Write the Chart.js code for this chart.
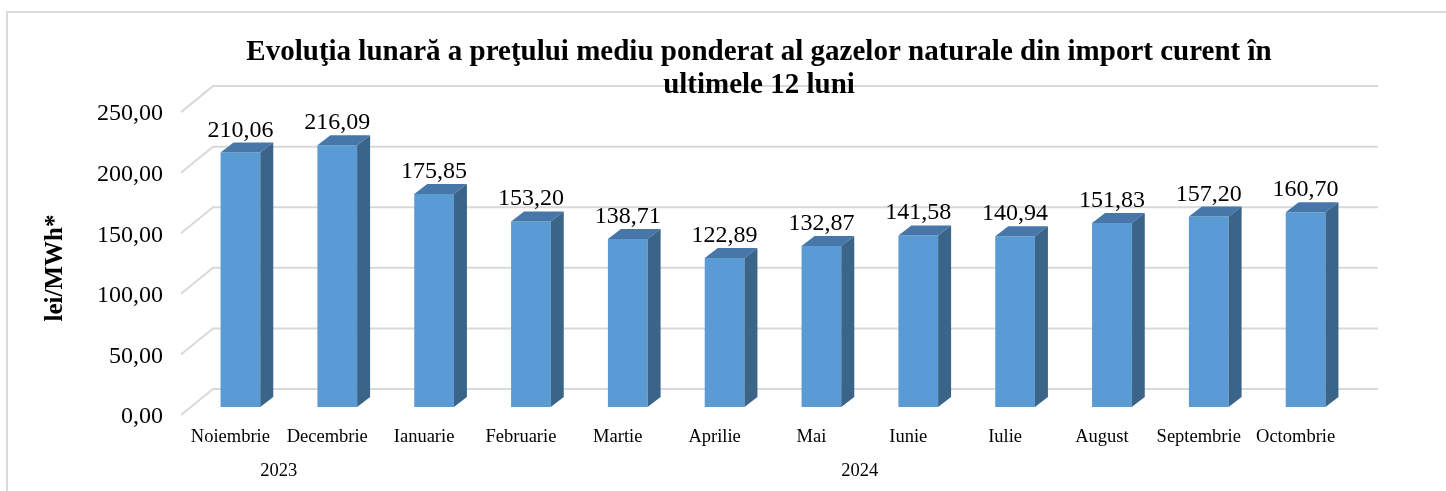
<!DOCTYPE html>
<html>
<head>
<meta charset="utf-8">
<script src="https://cdn.jsdelivr.net/npm/chart.js@4.4.1/dist/chart.umd.min.js"></script>
<style>
  body { margin: 0; background: #fff; overflow: hidden; }
  #wrap { position: relative; width: 1446px; height: 491px; }
  #frame { position: absolute; left: 6px; top: 11px; width: 1450px; height: 500px;
           border-left: 2px solid #dadada; border-top: 2px solid #dadada; }
  #chart { position: absolute; left: 0; top: 0; }
</style>
</head>
<body>
<div id="wrap">
  <div id="frame"></div>
  <canvas id="chart" width="1446" height="491"></canvas>
</div>
<script>
// data
var months = ['Noiembrie', 'Decembrie', 'Ianuarie', 'Februarie', 'Martie', 'Aprilie',
              'Mai', 'Iunie', 'Iulie', 'August', 'Septembrie', 'Octombrie'];
var prices = [210.06, 216.09, 175.85, 153.20, 138.71, 122.89, 132.87, 141.58, 140.94, 151.83, 157.20, 160.70];
var years = ['2023', '2024'];
var yearFirst = [0, 2];   // index of first month of each year
var yearLast = [1, 11];   // index of last month of each year

var serif = "'Liberation Serif', 'Times New Roman', serif";

function fmt(v) {
    return v.toFixed(2).replace('.', ',');
}

// 3D look: depth of the bars and of the back wall
var barDx = 13, barDy = -10;

var gridPlugin = {
    id: 'grid3d',
    // drawn before the title so the title sits on top of the walls
    beforeDraw: function(chart) {
        var ctx = chart.ctx;
        var area = chart.chartArea;
        var y = chart.scales.y;
        ctx.save();
        ctx.strokeStyle = '#d9d9d9';
        ctx.lineWidth = 2;
        y.ticks.forEach(function(t) {
            var py = y.getPixelForValue(t.value) - 18;
            ctx.beginPath();
            ctx.moveTo(area.left - 11, py + 26);
            ctx.lineTo(area.left + 21, py);
            ctx.lineTo(area.right + 24, py);
            ctx.stroke();
        });
        ctx.restore();
    },
    afterDatasetsDraw: function(chart) {
        var ctx = chart.ctx;
        var meta = chart.getDatasetMeta(0);
        ctx.save();
        meta.data.forEach(function(bar, i) {
            var p = bar.getProps(['x', 'y', 'base', 'width'], true);
            var l = p.x - p.width / 2, r = p.x + p.width / 2;
            // top
            ctx.fillStyle = '#4677a8';
            ctx.beginPath();
            ctx.moveTo(l, p.y);
            ctx.lineTo(r, p.y);
            ctx.lineTo(r + barDx, p.y + barDy);
            ctx.lineTo(l + barDx, p.y + barDy);
            ctx.closePath();
            ctx.fill();
            // side
            ctx.fillStyle = '#3a6588';
            ctx.beginPath();
            ctx.moveTo(r, p.y);
            ctx.lineTo(r + barDx, p.y + barDy);
            ctx.lineTo(r + barDx, p.base + barDy);
            ctx.lineTo(r, p.base);
            ctx.closePath();
            ctx.fill();
            // value label
            ctx.fillStyle = '#000';
            ctx.font = '24px ' + serif;
            ctx.textAlign = 'center';
            ctx.textBaseline = 'alphabetic';
            ctx.fillText(fmt(prices[i]), p.x, p.y - 16);
        });
        ctx.restore();
    }
};

var yearMid = years.map(function(y, i) { return (yearFirst[i] + yearLast[i]) / 2; });

new Chart(document.getElementById('chart'), {
    type: 'bar',
    data: {
        labels: months,
        datasets: [{
            data: prices,
            backgroundColor: '#5b9bd5',
            borderWidth: 0,
            barPercentage: 0.41,
            categoryPercentage: 1
        }]
    },
    options: {
        responsive: false,
        devicePixelRatio: 1,
        animation: false,
        layout: { padding: { left: 164, right: 92, top: 0, bottom: 0 } },
        plugins: {
            legend: { display: false },
            tooltip: { enabled: false },
            title: {
                display: true,
                text: ['Evoluţia lunară a preţului mediu ponderat al gazelor naturale din import curent în',
                       'ultimele 12 luni'],
                color: '#000',
                font: { family: serif, size: 29, weight: 'bold', lineHeight: 1.14 },
                padding: { top: 36, bottom: 2 }
            }
        },
        scales: {
            x: {
                weight: 0,
                grid: { display: false, drawTicks: false },
                border: { display: false },
                ticks: {
                    color: '#000',
                    font: { family: serif, size: 18.5 },
                    padding: 19,
                    labelOffset: -10,
                    autoSkip: false,
                    maxRotation: 0
                },
                afterFit: function(s) { s.height = 44; }
            },
            years: {
                type: 'linear',
                position: 'bottom',
                weight: 1,
                offset: false,
                min: -0.5,
                max: months.length - 0.5,
                grid: { display: false, drawTicks: false },
                border: { display: false },
                afterBuildTicks: function(s) {
                    s.ticks = yearMid.map(function(v) { return { value: v }; });
                },
                ticks: {
                    color: '#000',
                    font: { family: serif, size: 18.5 },
                    padding: 9,
                    labelOffset: -10,
                    autoSkip: false,
                    maxRotation: 0,
                    callback: function(v) {
                        var i = yearMid.indexOf(v);
                        return i >= 0 ? years[i] : '';
                    }
                },
                afterFit: function(s) { s.height = 40; }
            },
            y: {
                min: 0,
                max: 250,
                grid: { display: false, drawTicks: false },
                border: { display: false },
                ticks: {
                    stepSize: 50,
                    color: '#000',
                    font: { family: serif, size: 24 },
                    // mirrored so the labels are not clipped to the narrow axis box
                    mirror: true,
                    crossAlign: 'far',
                    padding: -95,
                    labelOffset: 10,
                    callback: function(v) { return fmt(v); }
                },
                title: {
                    display: true,
                    text: 'lei/MWh*    ',
                    color: '#000',
                    font: { family: serif, size: 25, weight: 'bold' },
                    padding: { top: -123, bottom: 0 }
                },
                afterFit: function(s) { s.width = 28; }
            }
        }
    },
    plugins: [gridPlugin]
});
</script>
</body>
</html>
